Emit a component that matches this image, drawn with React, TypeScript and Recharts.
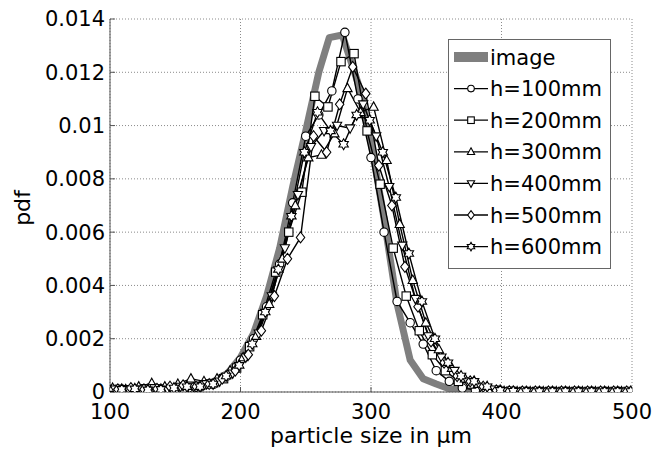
import { CartesianGrid, Legend, Line, LineChart, XAxis, YAxis } from "recharts"

// axis ticks
const xTicks = [100, 200, 300, 400, 500]
const yTicks = [0, 0.002, 0.004, 0.006, 0.008, 0.01, 0.012, 0.014]
const yTickLabels = ["0", "0.002", "0.004", "0.006", "0.008", "0.01", "0.012", "0.014"]

// "image" reference curve
const xImage = [100, 110, 120, 130, 140, 150, 160, 170, 180, 190, 200, 210, 220, 230, 240, 250, 260, 268, 278, 290, 300, 310, 320, 330, 340, 350, 360, 370, 380, 390, 400]
const yImage = [0.0001, 0.0001, 0.0001, 0.0001, 0.00012, 0.00015, 0.0002, 0.0003, 0.0004, 0.0007, 0.0013, 0.0022, 0.0036, 0.0054, 0.0077, 0.0098, 0.012, 0.0133, 0.0134, 0.0116, 0.0094, 0.0065, 0.0033, 0.0012, 0.0005, 0.0003, 0.00012, 0.00006, 0.00005, 0.00005, 0.00005]

// measured heights
const xH100 = [100, 110, 120, 130, 140, 150, 160, 170, 180, 190, 200, 210, 220, 230, 240, 250, 260, 270, 280, 290, 300, 310, 320, 330, 340, 350, 360, 370, 380, 390, 400, 410, 420, 430, 440, 450, 460, 470, 480, 490, 500]
const yH100 = [0.0001, 0.00005, 0.0001, 0.00008, 0.0001, 0.00012, 0.00015, 0.0002, 0.0003, 0.0006, 0.0012, 0.002, 0.0032, 0.0048, 0.0071, 0.0096, 0.0104, 0.0113, 0.0135, 0.011, 0.0088, 0.006, 0.0034, 0.0026, 0.0018, 0.0008, 0.0004, 0.00015, 0.00008, 0.00005, 0.00003, 0.00002, 0.00002, 0.00002, 0.00002, 0.00002, 0.00002, 0.00002, 0.00002, 0.00002, 0.00002]

const xH200 = [107, 117, 127, 137, 147, 157, 167, 177, 187, 197, 207, 217, 227, 237, 247, 257, 267, 277, 287, 297, 307, 317, 327, 337, 347, 357, 367, 377, 387, 397, 407, 417, 427, 437, 447, 457, 467, 477, 487, 497]
const yH200 = [0.0001, 0.00008, 0.00012, 0.0001, 0.00008, 0.00015, 0.0002, 0.0003, 0.0005, 0.0009, 0.0017, 0.0029, 0.0045, 0.006, 0.0075, 0.0111, 0.0107, 0.0124, 0.0127, 0.0098, 0.0078, 0.0054, 0.0036, 0.0023, 0.0014, 0.0008, 0.0004, 0.0003, 0.00012, 0.00004, 0.00003, 0.00002, 0.00002, 0.00002, 0.00002, 0.00002, 0.00002, 0.00002, 0.00002, 0.00002]

const xH300 = [102, 112, 122, 132, 142, 152, 162, 172, 182, 192, 202, 212, 222, 232, 242, 252, 262, 272, 282, 292, 302, 312, 322, 332, 342, 352, 362, 372, 382, 392, 402, 412, 422, 432, 442, 452, 462, 472, 482, 492]
const yH300 = [0.00015, 0.0001, 0.0002, 0.00033, 0.0002, 0.0003, 0.0005, 0.0004, 0.0005, 0.0008, 0.0013, 0.0021, 0.0033, 0.005, 0.007, 0.0088, 0.0089, 0.0097, 0.0114, 0.0105, 0.0107, 0.0087, 0.0063, 0.0042, 0.0026, 0.0016, 0.0009, 0.0005, 0.0003, 0.0001, 0.00003, 0.00002, 0.00002, 0.00002, 0.00002, 0.00002, 0.00002, 0.00002, 0.00002, 0.00002]

const xH400 = [104, 114, 124, 134, 144, 154, 164, 174, 184, 194, 204, 214, 224, 234, 244, 254, 264, 274, 284, 294, 304, 314, 324, 334, 344, 354, 364, 374, 384, 394, 404, 414, 424, 434, 444, 454, 464, 474, 484, 494]
const yH400 = [0.0001, 0.00012, 0.0001, 0.00015, 0.0001, 0.0002, 0.0002, 0.0003, 0.0004, 0.0007, 0.0013, 0.0022, 0.0036, 0.0054, 0.0074, 0.0092, 0.0098, 0.01, 0.0099, 0.0108, 0.0096, 0.0077, 0.0055, 0.0035, 0.0021, 0.0013, 0.0008, 0.0004, 0.0002, 0.0001, 0.00003, 0.00002, 0.00002, 0.00002, 0.00002, 0.00002, 0.00002, 0.00002, 0.00002, 0.00002]

const xH500 = [106, 116, 126, 136, 146, 156, 166, 176, 186, 196, 206, 216, 226, 236, 246, 256, 266, 276, 286, 296, 306, 316, 326, 336, 346, 356, 366, 376, 386, 396, 406, 416, 426, 436, 446, 456, 466, 476, 486, 496]
const yH500 = [0.0001, 0.00015, 0.0001, 0.00012, 0.0002, 0.00025, 0.0002, 0.0003, 0.0005, 0.0008, 0.0014, 0.0023, 0.0036, 0.005, 0.0058, 0.0096, 0.009, 0.0108, 0.0122, 0.0112, 0.0085, 0.007, 0.0047, 0.0032, 0.0019, 0.0011, 0.0006, 0.0004, 0.0002, 0.00006, 0.00003, 0.00002, 0.00002, 0.00002, 0.00002, 0.00002, 0.00002, 0.00002, 0.00002, 0.00002]

const xH600 = [109, 119, 129, 139, 149, 159, 169, 179, 189, 199, 209, 219, 229, 239, 249, 259, 269, 279, 289, 299, 309, 319, 329, 339, 349, 359, 369, 379, 389, 399, 409, 419, 429, 439, 449, 459, 469, 479, 489, 499]
const yH600 = [0.0001, 0.00012, 0.00008, 0.0001, 0.00015, 0.0002, 0.0002, 0.0003, 0.0006, 0.001, 0.0018, 0.003, 0.0046, 0.0066, 0.009, 0.0105, 0.0098, 0.0093, 0.0104, 0.0102, 0.009, 0.0073, 0.0052, 0.0034, 0.002, 0.0011, 0.0006, 0.0004, 0.0002, 0.00006, 0.00003, 0.00002, 0.00002, 0.00002, 0.00002, 0.00002, 0.00002, 0.00002, 0.00002, 0.00002]

const series = [
  { name: "h=100mm", shape: "circle", xs: xH100, ys: yH100 },
  { name: "h=200mm", shape: "square", xs: xH200, ys: yH200 },
  { name: "h=300mm", shape: "triangle", xs: xH300, ys: yH300 },
  { name: "h=400mm", shape: "triangleDown", xs: xH400, ys: yH400 },
  { name: "h=500mm", shape: "diamond", xs: xH500, ys: yH500 },
  { name: "h=600mm", shape: "hexagram", xs: xH600, ys: yH600 },
]

const toPoints = (xs: number[], ys: number[]) => xs.map((x, i) => ({ x, y: ys[i] }))

const FONT = "'DejaVu Sans', sans-serif"
const GRAY = "#7f7f7f"

function Marker({ shape, cx, cy, s = 4.2 }: { shape: string; cx: number; cy: number; s?: number }) {
  const common = { fill: "#fff", stroke: "#000", strokeWidth: 1.1 }
  if (shape === "circle") return <circle cx={cx} cy={cy} r={s} {...common} />
  if (shape === "square") return <rect x={cx - s} y={cy - s} width={2 * s} height={2 * s} {...common} />
  if (shape === "triangle")
    return <polygon points={`${cx},${cy - s * 1.2} ${cx + s * 1.1},${cy + s * 0.8} ${cx - s * 1.1},${cy + s * 0.8}`} {...common} />
  if (shape === "triangleDown")
    return <polygon points={`${cx},${cy + s * 1.2} ${cx + s * 1.1},${cy - s * 0.8} ${cx - s * 1.1},${cy - s * 0.8}`} {...common} />
  if (shape === "diamond")
    return <polygon points={`${cx},${cy - s * 1.3} ${cx + s},${cy} ${cx},${cy + s * 1.3} ${cx - s},${cy}`} {...common} />
  // hexagram
  const pts: string[] = []
  for (let k = 0; k < 12; k++) {
    const a = ((-90 + k * 30) * Math.PI) / 180
    const r = k % 2 === 0 ? s * 1.3 : s * 0.75
    pts.push(`${cx + r * Math.cos(a)},${cy + r * Math.sin(a)}`)
  }
  return <polygon points={pts.join(" ")} {...common} />
}

function LegendBox() {
  const rowY = (i: number) => 18 + i * 31.6
  return (
    <svg width={163} height={230} style={{ display: "block" }}>
      <rect x={0.5} y={0.5} width={162} height={229} fill="#fff" stroke="#666" />
      <rect x={6} y={rowY(0) - 5} width={34} height={10} fill={GRAY} />
      <text x={42} y={rowY(0) + 7.5} fontSize={21} fontFamily={FONT} fill="#000">
        image
      </text>
      {series.map((s, i) => (
        <g key={s.name}>
          <line x1={6} x2={40} y1={rowY(i + 1)} y2={rowY(i + 1)} stroke="#000" strokeWidth={1.3} />
          <Marker shape={s.shape} cx={23} cy={rowY(i + 1)} s={3.3} />
          <text x={42} y={rowY(i + 1) + 7.5} fontSize={21} fontFamily={FONT} fill="#000">
            {s.name}
          </text>
        </g>
      ))}
    </svg>
  )
}

const tickStyle = { fontSize: 21, fontFamily: FONT, fill: "#000" }

export default function App() {
  return (
    <div style={{ position: "absolute", left: 0, top: 0, width: 654, height: 450, background: "#fff" }}>
      <LineChart width={654} height={450} margin={{ top: 19, right: 22, left: 0, bottom: 0 }}>
        <CartesianGrid stroke="#8a8a8a" strokeDasharray="1 2" />
        <XAxis
          dataKey="x"
          type="number"
          domain={[100, 500]}
          ticks={xTicks}
          allowDataOverflow
          height={58}
          stroke="#555"
          tickSize={-5}
          tickMargin={17}
          tick={tickStyle}
          label={() => (
            <text x={371} y={443} textAnchor="middle" fontSize={22} fontFamily={FONT} fill="#000">
              particle size in µm
            </text>
          )}
        />
        <XAxis
          xAxisId="top"
          orientation="top"
          type="number"
          domain={[100, 500]}
          ticks={xTicks}
          allowDataOverflow
          height={0}
          stroke="#555"
          tickSize={-5}
          tickFormatter={() => ""}
        />
        <YAxis
          type="number"
          domain={[0, 0.014]}
          ticks={yTicks}
          allowDataOverflow
          width={110}
          stroke="#555"
          tickSize={-5}
          tickMargin={10}
          tick={tickStyle}
          tickFormatter={(v: number) => yTickLabels[yTicks.indexOf(v)] ?? String(v)}
          label={() => (
            <text x={30} y={208} transform="rotate(-90 30 208)" textAnchor="middle" fontSize={22} fontFamily={FONT} fill="#000">
              pdf
            </text>
          )}
        />
        <YAxis
          yAxisId="right"
          orientation="right"
          type="number"
          domain={[0, 0.014]}
          ticks={yTicks}
          allowDataOverflow
          width={0}
          stroke="#555"
          tickSize={-5}
          tickFormatter={() => ""}
        />
        <Line
          data={toPoints(xImage, yImage)}
          dataKey="y"
          name="image"
          type="linear"
          stroke={GRAY}
          strokeWidth={7}
          strokeLinejoin="round"
          dot={false}
          isAnimationActive={false}
        />
        {series.map((s) => (
          <Line
            key={s.name}
            data={toPoints(s.xs, s.ys)}
            dataKey="y"
            name={s.name}
            type="linear"
            stroke="#000"
            strokeWidth={1.4}
            dot={(p: any) => <Marker key={`${s.shape}-${p.index}`} shape={s.shape} cx={p.cx} cy={p.cy} />}
            isAnimationActive={false}
          />
        ))}
        <Legend
          layout="vertical"
          align="center"
          verticalAlign="middle"
          content={() => <LegendBox />}
          wrapperStyle={{ left: 448, top: 39, width: 163, height: 230 }}
        />
      </LineChart>
    </div>
  )
}
